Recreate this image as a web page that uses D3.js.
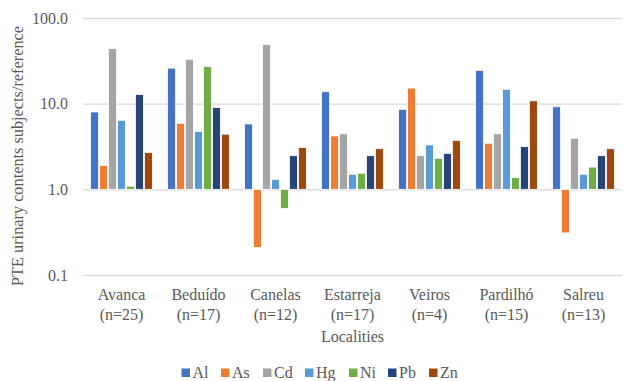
<!DOCTYPE html>
<html>
<head>
<meta charset="utf-8">
<script src="https://cdn.jsdelivr.net/npm/d3@7"></script>
</head>
<body style="margin:0;background:#fff">
<svg id="chart" width="625" height="381" style="display:block"></svg>
<script>
// Localities and sample sizes
const localities = ["Avanca", "Beduído", "Canelas", "Estarreja", "Veiros", "Pardilhó", "Salreu"];
const sampleSizes = ["(n=25)", "(n=17)", "(n=12)", "(n=17)", "(n=4)", "(n=15)", "(n=13)"];

// Elements (series)
const elements = ["Al", "As", "Cd", "Hg", "Ni", "Pb", "Zn"];
const colors = ["#4472C4", "#ED7D31", "#A5A5A5", "#5B9BD5", "#70AD47", "#264478", "#9E480E"];

// Ratio subjects/reference per element, one value per locality
const Al = [8.0, 26.0, 5.8, 13.8, 8.6, 24.5, 9.2];
const As = [1.9, 5.9, 0.21, 4.2, 15.2, 3.45, 0.31];
const Cd = [44.0, 33.0, 49.0, 4.45, 2.47, 4.45, 3.95];
const Hg = [6.4, 4.75, 1.31, 1.5, 3.3, 14.7, 1.5];
const Ni = [1.09, 27.2, 0.6, 1.54, 2.3, 1.37, 1.82];
const Pb = [12.8, 9.0, 2.47, 2.47, 2.63, 3.15, 2.47];
const Zn = [2.7, 4.4, 3.08, 2.98, 3.73, 10.8, 2.98];
const seriesValues = [Al, As, Cd, Hg, Ni, Pb, Zn];

// Axis ticks
const yTicks = [0.1, 1, 10, 100];

const FONT = "Liberation Serif";
const INK = "#595959";
const svg = d3.select("#chart");
const margin = { left: 83, right: 622, top: 18, bottom: 275 };

const x = d3.scaleBand().domain(localities).range([margin.left, margin.right]).paddingInner(0).paddingOuter(0);
const y = d3.scaleLog().domain([0.1, 100]).range([margin.bottom, margin.top]);
const xs = d3.scaleBand().domain(elements).range([0, x.bandwidth() * 0.815]).padding(0);
const groupOffset = (x.bandwidth() - x.bandwidth() * 0.815) / 2;

// Gridlines and axis labels
const yAxis = d3.axisLeft(y).tickValues(yTicks).tickFormat(d3.format(".1f")).tickSize(-(margin.right - margin.left)).tickPadding(15);
const gy = svg.append("g").attr("transform", `translate(${margin.left},0)`).call(yAxis)
  .attr("font-family", FONT).attr("font-size", 16);
gy.select(".domain").remove();
gy.selectAll(".tick line").attr("stroke", "#d9d9d9").attr("stroke-width", 1.3);
gy.selectAll(".tick text").attr("fill", INK).attr("font-family", FONT).attr("font-size", 16);

// Bars grow from the 1.0 line up or down
const base = y(1);
const groups = svg.append("g").selectAll("g")
  .data(localities)
  .join("g")
  .attr("transform", d => `translate(${x(d) + groupOffset},0)`);

groups.selectAll("rect")
  .data((d, i) => elements.map((e, k) => ({ e, k, v: seriesValues[k][i] })))
  .join("rect")
  .attr("x", d => xs(d.e) + 0.5)
  .attr("width", xs.bandwidth() - 1)
  .attr("y", d => Math.min(y(d.v), base))
  .attr("height", d => Math.abs(y(d.v) - base))
  .attr("fill", d => colors[d.k])
  .attr("stroke", "#fff")
  .attr("stroke-width", 0.8);

// Category labels (two lines)
const cx = d => x(d) + x.bandwidth() / 2;
const cat = svg.append("g").selectAll("g")
  .data(localities)
  .join("g");
cat.append("text").attr("x", cx).attr("y", 300).attr("text-anchor", "middle")
  .attr("font-family", FONT).attr("font-size", 16).attr("fill", INK).text(d => d);
cat.append("text").attr("x", cx).attr("y", 320).attr("text-anchor", "middle")
  .attr("font-family", FONT).attr("font-size", 16).attr("fill", INK).text((d, i) => sampleSizes[i]);

// Axis titles
svg.append("text")
  .attr("x", (margin.left + margin.right) / 2)
  .attr("y", 342)
  .attr("text-anchor", "middle")
  .attr("font-family", FONT).attr("font-size", 16).attr("fill", INK)
  .text("Localities");

svg.append("text")
  .attr("transform", `translate(23,156) rotate(-90)`)
  .attr("text-anchor", "middle")
  .attr("font-family", FONT).attr("font-size", 16.3).attr("fill", INK)
  .text("PTE urinary contents subjects/reference");

// Legend
const legendX = [181.5, 221, 263, 305, 349, 388, 429];
const legend = svg.append("g").selectAll("g")
  .data(elements)
  .join("g")
  .attr("transform", (d, i) => `translate(${legendX[i]},0)`);
legend.append("rect").attr("x", 0).attr("y", 368.5).attr("width", 8.5).attr("height", 8.5)
  .attr("fill", (d, i) => colors[i]);
legend.append("text").attr("x", 11).attr("y", 378)
  .attr("font-family", FONT).attr("font-size", 16).attr("fill", INK).text(d => d);
</script>
</body>
</html>
